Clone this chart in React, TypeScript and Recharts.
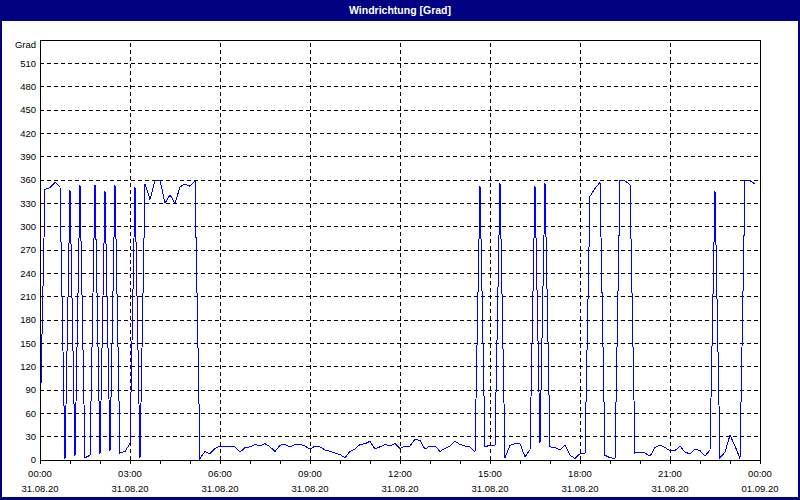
import React from "react";
import {
  CartesianGrid,
  Line,
  LineChart,
  ReferenceLine,
  XAxis,
  YAxis,
} from "recharts";

// wind direction in degrees, one value every 10 minutes from 31.08.20 00:00
const DIRECTIONS = [
  36, 348, 350, 357, 351, 1, 347, 5, 353, 3, 6, 354,
  8, 346, 12, 353, 9, 11, 21, 351, 3, 355, 335, 359,
  360, 330, 341, 330, 351, 355, 352, 359, 2, 11, 8, 15,
  18, 17, 17, 17, 10, 16, 17, 20, 18, 21, 17, 11,
  19, 20, 17, 20, 20, 18, 14, 18, 17, 13, 11, 9,
  7, 3, 11, 14, 20, 21, 24, 14, 17, 20, 18, 21,
  15, 18, 18, 27, 25, 14, 18, 18, 11, 15, 18, 24,
  20, 18, 17, 10, 352, 17, 19, 19, 356, 3, 19, 21,
  21, 4, 13, 352, 22, 356, 17, 16, 13, 19, 6, 2,
  8, 8, 339, 349, 357, 6, 3, 2, 359, 359, 354, 9,
  10, 9, 5, 16, 19, 16, 12, 12, 18, 10, 8, 14,
  12, 5, 13, 346, 3, 10, 32, 18, 2, 359, 359, 355,
];
const STEP_MINUTES = 10;

const HOUR_TICKS = [
  0, 60, 120, 180, 240, 300, 360, 420, 480, 540, 600, 660, 720,
  780, 840, 900, 960, 1020, 1080, 1140, 1200, 1260, 1320, 1380, 1440,
];
const LABEL_TICKS = [0, 180, 360, 540, 720, 900, 1080, 1260, 1440];
const TIME_LABELS = ["00:00", "03:00", "06:00", "09:00", "12:00", "15:00", "18:00", "21:00", "00:00"];
const DATE_LABELS = ["31.08.20", "31.08.20", "31.08.20", "31.08.20", "31.08.20", "31.08.20", "31.08.20", "31.08.20", "01.09.20"];

const GRAD_TICKS = [0, 30, 60, 90, 120, 150, 180, 210, 240, 270, 300, 330, 360, 390, 420, 450, 480, 510, 540];
const DIR_TICKS = [0, 45, 90, 135, 180, 225, 270, 315, 360, 405, 450, 495, 540];
const DIR_LABELS = ["N", "NE", "E", "SE", "S", "SW", "W", "NW", "N", "NE", "E", "SE", "S"];

const FONT = "'Liberation Sans', Arial, sans-serif";
const NAVY = "#000080";
const TEXT = "#000";

const data = DIRECTIONS.map((v, i) => ({ t: i * STEP_MINUTES, dir: v }));

function TimeTick(props: any) {
  const { x, y, payload } = props;
  const idx = LABEL_TICKS.indexOf(payload.value);
  if (idx < 0) return null;
  return (
    <g>
      <text x={x} y={y + 11} textAnchor="middle" fontSize={9.5} fontFamily={FONT} fill={TEXT}>
        {TIME_LABELS[idx]}
      </text>
      <text x={x} y={y + 26} textAnchor="middle" fontSize={9.5} fontFamily={FONT} fill={TEXT}>
        {DATE_LABELS[idx]}
      </text>
    </g>
  );
}

function GradTick(props: any) {
  const { x, y, payload } = props;
  const isTop = payload.value === 540;
  return (
    <text x={x} y={y + (isTop ? 5 : 0)} dy="0.355em" textAnchor="end" fontSize={9.5} fontFamily={FONT} fill={TEXT}>
      {isTop ? "Grad" : payload.value}
    </text>
  );
}

function DirTick(props: any) {
  const { x, y, payload } = props;
  const idx = DIR_TICKS.indexOf(payload.value);
  return (
    <text x={x} y={y} dy="0.355em" textAnchor="start" fontSize={9.5} fontFamily={FONT} fill={TEXT}>
      {DIR_LABELS[idx]}
    </text>
  );
}

export default function App() {
  return (
    <div style={{ position: "absolute", left: 0, top: 0, width: 800, height: 500, background: "#fff" }}>
      <style>{`
        .recharts-cartesian-grid line,
        .recharts-reference-line line,
        .recharts-cartesian-axis-line,
        .recharts-cartesian-axis-tick-line,
        .recharts-line-curve { shape-rendering: crispEdges; }
      `}</style>
      <LineChart
        width={800}
        height={500}
        data={data}
        margin={{ top: 40, right: 0, bottom: 0, left: 0 }}
      >
        <CartesianGrid vertical={false} stroke="#000" strokeDasharray="4 3" />
        {LABEL_TICKS.slice(1, -1).map((t) => (
          <ReferenceLine key={t} x={t} stroke="#000" strokeDasharray="4 3" />
        ))}
        <ReferenceLine y={540} stroke="#000" />
        <XAxis
          type="number"
          dataKey="t"
          domain={[0, 1440]}
          ticks={HOUR_TICKS}
          interval={0}
          height={40}
          tickSize={4}
          tickMargin={2}
          stroke="#000"
          tick={<TimeTick />}
        />
        <YAxis
          domain={[0, 540]}
          ticks={GRAD_TICKS}
          interval={0}
          width={40}
          tickLine={false}
          tickSize={0}
          tickMargin={4}
          stroke="#000"
          tick={<GradTick />}
        />
        <YAxis
          yAxisId="dir"
          orientation="right"
          domain={[0, 540]}
          ticks={DIR_TICKS}
          interval={0}
          width={40}
          tickSize={4}
          tickMargin={1}
          stroke="#000"
          tick={<DirTick />}
        />
        <Line
          type="linear"
          dataKey="dir"
          stroke="#0000ff"
          strokeWidth={1}
          dot={false}
          isAnimationActive={false}
        />
      </LineChart>
      <div
        style={{
          position: "absolute",
          left: 0,
          top: 0,
          width: 800,
          height: 21,
          background: NAVY,
          color: "#fff",
          fontFamily: FONT,
          fontWeight: "bold",
          fontSize: 10.5,
          lineHeight: "20px",
          textAlign: "center",
        }}
      >
        Windrichtung [Grad]
      </div>
      <div
        style={{
          position: "absolute",
          left: 0,
          top: 0,
          width: 800,
          height: 500,
          boxSizing: "border-box",
          borderLeft: `2px solid ${NAVY}`,
          borderRight: `2px solid ${NAVY}`,
          borderBottom: `3px solid ${NAVY}`,
          pointerEvents: "none",
        }}
      />
    </div>
  );
}
